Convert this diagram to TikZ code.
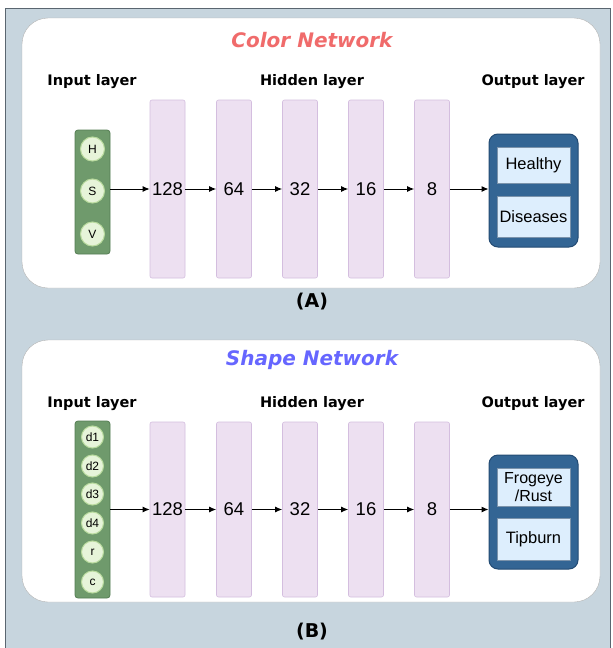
\documentclass[tikz,border=0pt]{standalone}
\usepackage{fontspec}
\setmainfont{Liberation Sans}
\newfontfamily\dvs{DejaVu Sans}
\usetikzlibrary{arrows.meta}
\definecolor{bgblue}{HTML}{C7D5DE}
\definecolor{framec}{HTML}{5A6670}
\definecolor{lav}{HTML}{EDE0F1}
\definecolor{lavb}{HTML}{D4BEDF}
\definecolor{ingreen}{HTML}{6F9A6C}
\definecolor{ingreenb}{HTML}{557D53}
\definecolor{cellg}{HTML}{E6F4D9}
\definecolor{cellgb}{HTML}{B9DB9E}
\definecolor{outblue}{HTML}{336594}
\definecolor{outblueb}{HTML}{234B73}
\definecolor{outin}{HTML}{DDEEFD}
\definecolor{redt}{HTML}{F06B6B}
\definecolor{bluet}{HTML}{6666FF}
\tikzset{
  panel/.style={fill=white, draw=gray!60, rounded corners=26pt},
  hidbox/.style={fill=lav, draw=lavb, rounded corners=2pt, line width=0.6pt, minimum width=35pt, inner sep=0pt, font=\fontsize{18.5}{20}\selectfont},
  inbox/.style={fill=ingreen, draw=ingreenb, rounded corners=3pt, line width=0.8pt, minimum width=35pt, inner sep=0pt},
  cell/.style={circle, fill=cellg, draw=cellgb, line width=1pt, minimum size=24pt, inner sep=0pt, font=\fontsize{12}{13}\selectfont},
  cellsm/.style={circle, fill=cellg, draw=cellgb, line width=1pt, minimum size=22pt, inner sep=0pt, font=\fontsize{12}{13}\selectfont},
  outbox/.style={fill=outblue, draw=outblueb, rounded corners=9pt, line width=1pt, minimum width=89pt, inner sep=0pt},
  outcell/.style={fill=outin, draw=outblueb!60, line width=0.4pt, minimum width=73pt, inner sep=0pt, font=\fontsize{16.5}{18}\selectfont},
  lbl/.style={font=\dvs\bfseries\fontsize{14.5}{17}\selectfont},
  arr/.style={-{Latex[length=7pt,width=6pt]}, line width=1pt, black},
  ttl/.style={font=\dvs\bfseries\itshape\fontsize{20}{22}\selectfont},
  captxt/.style={font=\dvs\bfseries\fontsize{19}{21}\selectfont}
}
\begin{document}
\begin{tikzpicture}[x=1pt,y=-1pt]
\useasboundingbox (0,0) rectangle (613,648);
\fill[white] (0,0) rectangle (613,648);
\fill[bgblue] (5,8) rectangle (610,648);
\draw[framec, line width=0.8pt] (5,648) -- (5,8) -- (610,8) -- (610,648);
% ---------- Panel A ----------
\draw[panel] (22,18) rectangle (600,288);
\node[ttl, text=redt] (tA) at (312,40) {Color Network};
\node[lbl] (ilA) at (92,82) {Input layer};
\node[lbl] (hlA) at (312,82) {Hidden layer};
\node[lbl] (olA) at (533,82) {Output layer};
\node[inbox, minimum height=124pt] (inA) at (92.5,192) {};
\node[cell] (H) at (92.5,149) {H};
\node[cell] (S) at (92.5,191) {S};
\node[cell] (V) at (92.5,234) {V};
\node[hidbox, minimum height=178pt] (a1) at (167.5,189) {128};
\node[hidbox, minimum height=178pt] (a2) at (234,189) {64};
\node[hidbox, minimum height=178pt] (a3) at (300,189) {32};
\node[hidbox, minimum height=178pt] (a4) at (366,189) {16};
\node[hidbox, minimum height=178pt] (a5) at (432,189) {8};
\node[outbox, minimum height=113pt] (oA) at (533.5,190.5) {};
\node[outcell, minimum height=36pt] (hl) at (533.5,165) {Healthy};
\node[outcell, minimum height=41pt] (ds) at (533.5,216.5) {Diseases};
\draw[arr] (inA.east |- a1) -- (a1.west);
\draw[arr] (a1.east) -- (a2.west);
\draw[arr] (a2.east) -- (a3.west);
\draw[arr] (a3.east) -- (a4.west);
\draw[arr] (a4.east) -- (a5.west);
\draw[arr] (a5.east) -- (oA.west |- a5);
\node[captxt] (cA) at (312,302) {(A)};
% ---------- Panel B ----------
\draw[panel] (22,340) rectangle (600,602);
\node[ttl, text=bluet] (tB) at (312,360) {Shape Network};
\node[lbl] (ilB) at (92,404) {Input layer};
\node[lbl] (hlB) at (312,404) {Hidden layer};
\node[lbl] (olB) at (533,404) {Output layer};
\node[inbox, minimum height=177pt] (inB) at (92.5,509.5) {};
\node[cellsm] (d1) at (92.5,437) {d1};
\node[cellsm] (d2) at (92.5,466) {d2};
\node[cellsm] (d3) at (92.5,494) {d3};
\node[cellsm] (d4) at (92.5,523) {d4};
\node[cellsm] (r) at (92.5,552) {r};
\node[cellsm] (c) at (92.5,582) {c};
\node[hidbox, minimum height=175pt] (b1) at (167.5,509.5) {128};
\node[hidbox, minimum height=175pt] (b2) at (234,509.5) {64};
\node[hidbox, minimum height=175pt] (b3) at (300,509.5) {32};
\node[hidbox, minimum height=175pt] (b4) at (366,509.5) {16};
\node[hidbox, minimum height=175pt] (b5) at (432,509.5) {8};
\node[outbox, minimum height=114pt] (oB) at (533.5,512) {};
\node[outcell, minimum height=38pt, align=center, font=\fontsize{16}{18}\selectfont] (fr) at (533.5,487) {Frogeye\\/Rust};
\node[outcell, minimum height=42pt] (tb) at (533.5,539) {Tipburn};
\draw[arr] (inB.east |- b1) -- (b1.west);
\draw[arr] (b1.east) -- (b2.west);
\draw[arr] (b2.east) -- (b3.west);
\draw[arr] (b3.east) -- (b4.west);
\draw[arr] (b4.east) -- (b5.west);
\draw[arr] (b5.east) -- (oB.west |- b5);
\node[captxt] (cB) at (312,632) {(B)};
\end{tikzpicture}
\end{document}
